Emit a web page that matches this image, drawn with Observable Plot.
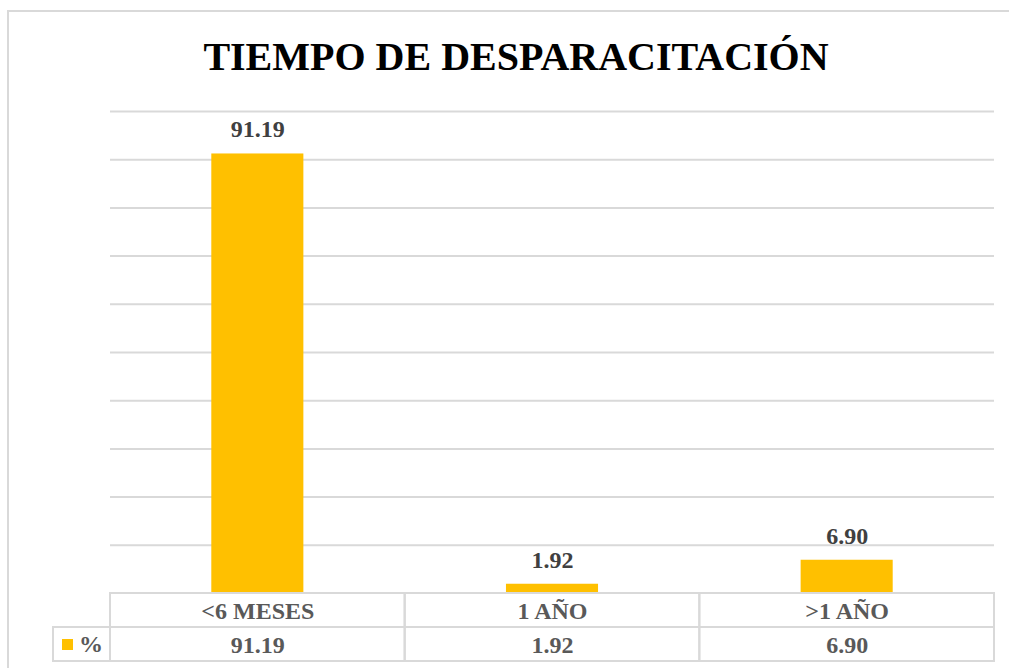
<!DOCTYPE html>
<html>
<head>
<meta charset="utf-8">
<script src="https://cdn.jsdelivr.net/npm/d3@7"></script>
<script src="https://cdn.jsdelivr.net/npm/@observablehq/plot@0.6"></script>
<style>
  html, body { margin: 0; padding: 0; background: #fff; overflow: hidden; }
  #wrap { position: relative; width: 1009px; height: 668px; overflow: hidden; font-family: "Liberation Serif", "Times New Roman", serif; }
  #frameTop { position: absolute; left: 7px; top: 10px; width: 1002px; height: 2px; background: #d9d9d9; }
  #frameLeft { position: absolute; left: 7px; top: 10px; width: 2px; height: 658px; background: #d9d9d9; }
  #title { position: absolute; left: 0; top: 36.5px; width: 1032px; text-align: center; font-size: 40px; line-height: 40px; font-weight: bold; color: #000; white-space: nowrap; }
  #chart { position: absolute; left: 0; top: 90px; }
  #table { position: absolute; left: 0; top: 592px; }
  #legend { position: absolute; left: 52px; top: 626px; width: 59px; height: 36px; border: 2px solid #d9d9d9; box-sizing: border-box; display: flex; align-items: center; }
  #legend .sw { width: 11px; height: 11px; background: #FFC000; margin-left: 8px; margin-right: 6px; }
  #legend .lb { font-size: 24px; font-weight: bold; color: #595959; line-height: 24px; }
</style>
</head>
<body>
<div id="wrap">
  <div id="frameTop"></div>
  <div id="frameLeft"></div>
  <div id="title">TIEMPO DE DESPARACITACIÓN</div>
  <div id="chart"></div>
  <div id="table"></div>
  <div id="legend"><div class="sw"></div><div class="lb"></div></div>
</div>
<script>
const categories = ["<6 MESES", "1 AÑO", ">1 AÑO"];
const values = [91.19, 1.92, 6.90];
const valueLabels = ["91.19", "1.92", "6.90"];
const gridTicks = [10, 20, 30, 40, 50, 60, 70, 80, 90, 100];
const seriesName = "%";
const barColor = "#FFC000";

const data = categories.map((c, i) => ({cat: c, value: values[i], label: valueLabels[i]}));
const tableData = [];
categories.forEach((c, i) => {
  tableData.push({cat: c, row: "cat", text: c});
  tableData.push({cat: c, row: "val", text: valueLabels[i]});
});

const fontFamily = '"Liberation Serif", "Times New Roman", serif';

const chart = Plot.plot({
  width: 1009,
  height: 504,
  marginTop: 21,
  marginBottom: 1,
  marginLeft: 110,
  marginRight: 15,
  style: {fontFamily, background: "transparent", overflow: "visible"},
  x: {domain: categories, padding: 0, round: false, axis: null},
  y: {domain: [0, 100], axis: null},
  marks: [
    Plot.ruleY(gridTicks, {stroke: "#d9d9d9", strokeWidth: 2}),
    Plot.barY(data, {x: "cat", y: "value", fill: barColor, insetLeft: 101.3, insetRight: 101.3}),
    Plot.text(data, {x: "cat", y: "value", text: "label", lineAnchor: "bottom", dy: -16.5,
      fill: "#404040", fontSize: 24, fontWeight: "bold"})
  ]
});
document.getElementById("chart").appendChild(chart);

const table = Plot.plot({
  width: 1009,
  height: 70,
  marginTop: 1,
  marginBottom: 1,
  marginLeft: 110,
  marginRight: 15,
  style: {fontFamily, background: "transparent", overflow: "visible"},
  x: {domain: categories, padding: 0, round: false, axis: null},
  y: {domain: ["cat", "val"], padding: 0, round: false, axis: null},
  marks: [
    Plot.cell(tableData, {x: "cat", y: "row", fill: "none", stroke: "#d9d9d9", strokeWidth: 2}),
    Plot.text(tableData, {x: "cat", y: "row", text: "text", fill: "#595959", fontSize: 24, fontWeight: "bold", dy: 1})
  ]
});
document.getElementById("table").appendChild(table);

document.querySelector("#legend .lb").textContent = seriesName;
</script>
</body>
</html>
